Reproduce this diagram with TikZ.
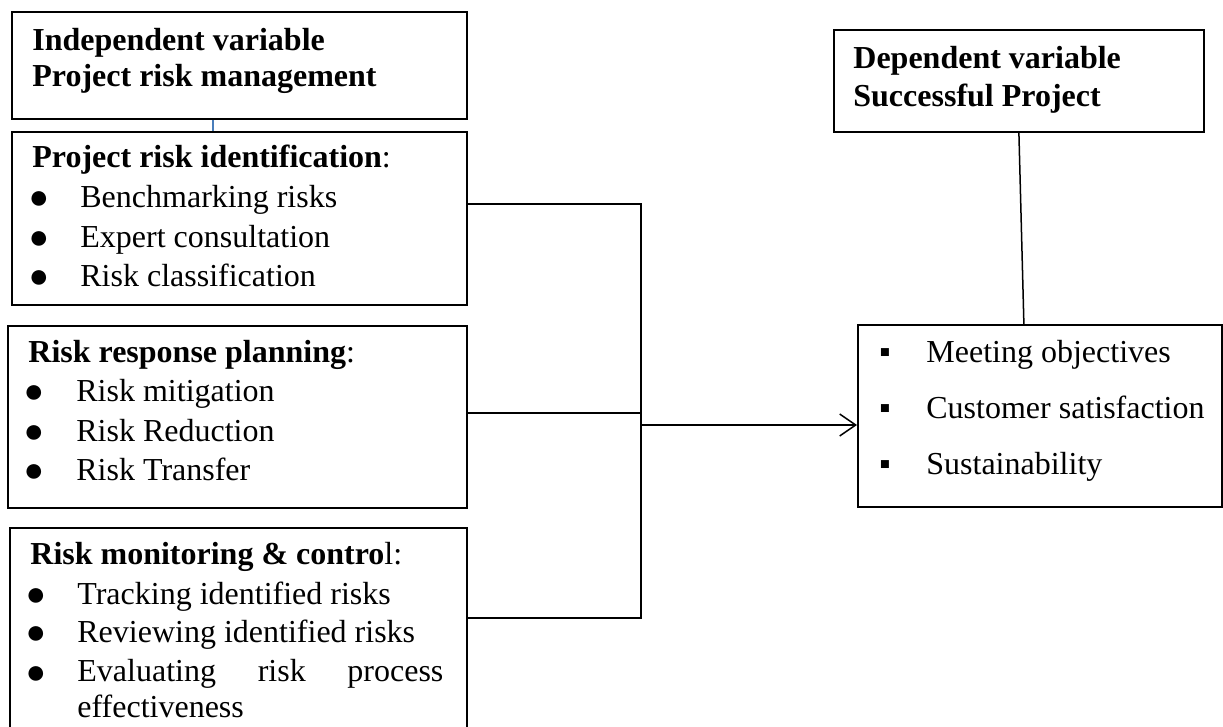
\documentclass[tikz,border=0pt]{standalone}
\usepackage{fontspec}
\setmainfont{Liberation Serif}
\usetikzlibrary{arrows.meta,positioning}
\definecolor{linkblue}{HTML}{4A7EBB}
\tikzset{
  panel/.style={draw,line width=0.9pt,anchor=north west,inner sep=0pt},
  txt/.style={anchor=base west,inner sep=0pt},
  dot/.style={anchor=base,inner sep=0pt,font=\fontsize{17}{17}\selectfont,yshift=-0.5pt},
  sq/.style={anchor=base,inner sep=0pt},
  link/.style={line width=0.75pt},
}

\begin{document}
\begin{tikzpicture}[x=0.5pt,y=-0.5pt,font=\fontsize{16}{19}\selectfont]
% one unit = one pixel of the 1223 x 727 sketch
\useasboundingbox (0,0) rectangle (1223,727);

% ---- left column: the independent variable ----------------------------
\node[panel,minimum width=227.5pt,minimum height=53.5pt] (indep) at (11,11) {};
\node[txt] (indep-l1) at (32,51) {\bfseries Independent variable};
\node[txt] (indep-l2) at (32,87) {\bfseries Project risk management};

\node[panel,minimum width=227.5pt,minimum height=86.5pt] (pri) at (11,131) {};
\node[txt] (pri-h) at (32,168) {\textbf{Project risk identification}:};
\node[dot] (pri-b1) at (39,208) {●};
\node[dot] (pri-b2) at (39,248) {●};
\node[dot] (pri-b3) at (39,287) {●};
\node[txt] (pri-i1) at (80,208) {Benchmarking risks};
\node[txt] (pri-i2) at (80,248) {Expert consultation};
\node[txt] (pri-i3) at (80,287) {Risk classification};

\node[panel,minimum width=229.5pt,minimum height=91pt] (rp) at (7,325) {};
\node[txt] (rp-h) at (28,363) {\textbf{Risk response planning}:};
\node[dot] (rp-b1) at (34,402) {●};
\node[dot] (rp-b2) at (34,442) {●};
\node[dot] (rp-b3) at (34,481) {●};
\node[txt] (rp-i1) at (76,402) {Risk mitigation};
\node[txt] (rp-i2) at (76,442) {Risk Reduction};
\node[txt] (rp-i3) at (76,481) {Risk Transfer};

% the last box runs off the foot of the page, as in the sketch
\node[panel,minimum width=228.5pt,minimum height=109pt] (mc) at (9,527) {};
\node[txt] (mc-h) at (30,565) {\textbf{Risk monitoring \& contro}l:};
\node[dot] (mc-b1) at (36,605) {●};
\node[dot] (mc-b2) at (36,643) {●};
\node[dot] (mc-b3) at (36,682) {●};
\node[txt] (mc-i1) at (77,605) {Tracking identified risks};
\node[txt] (mc-i2) at (77,643) {Reviewing identified risks};
\node[txt] (mc-i3) at (77,682) {\makebox[183pt][s]{Evaluating risk process}};
\node[txt] (mc-i4) at (77,718) {effectiveness};

% ---- right column: the dependent variable -----------------------------
\node[panel,minimum width=185pt,minimum height=51pt] (dv) at (833,29) {};
\node[txt] (dv-l1) at (853,69) {\bfseries Dependent variable};
\node[txt] (dv-l2) at (853,107) {\bfseries Successful Project};

\node[panel,minimum width=182pt,minimum height=91pt] (out) at (857,324) {};
\node[sq] (out-b1) at (885,363) {▪};
\node[sq] (out-b2) at (885,419) {▪};
\node[sq] (out-b3) at (885,475) {▪};
\node[txt] (out-i1) at (926,363) {Meeting objectives};
\node[txt] (out-i2) at (926,419) {Customer satisfaction};
\node[txt] (out-i3) at (926,475) {Sustainability};

% ---- connectors --------------------------------------------------------
\coordinate (bustop) at (641,204);
\coordinate (busmid) at (641,413);
\coordinate (busout) at (641,425);
\coordinate (busbot) at (641,618);
\draw[linkblue,line width=0.9pt] ([xshift=101pt]indep.south west) -- ([xshift=101pt]pri.north west);
\draw[link] (pri.east |- bustop) -- (bustop) -- (busbot) -- (mc.east |- busbot);
\draw[link] (rp.east |- busmid) -- (busmid);
\draw[link,-{Straight Barb[length=8pt,width=11pt]}] (busout) -- (out.west |- busout);
\draw[link] (dv.south) -- ([xshift=-8pt]out.north);
\end{tikzpicture}
\end{document}
